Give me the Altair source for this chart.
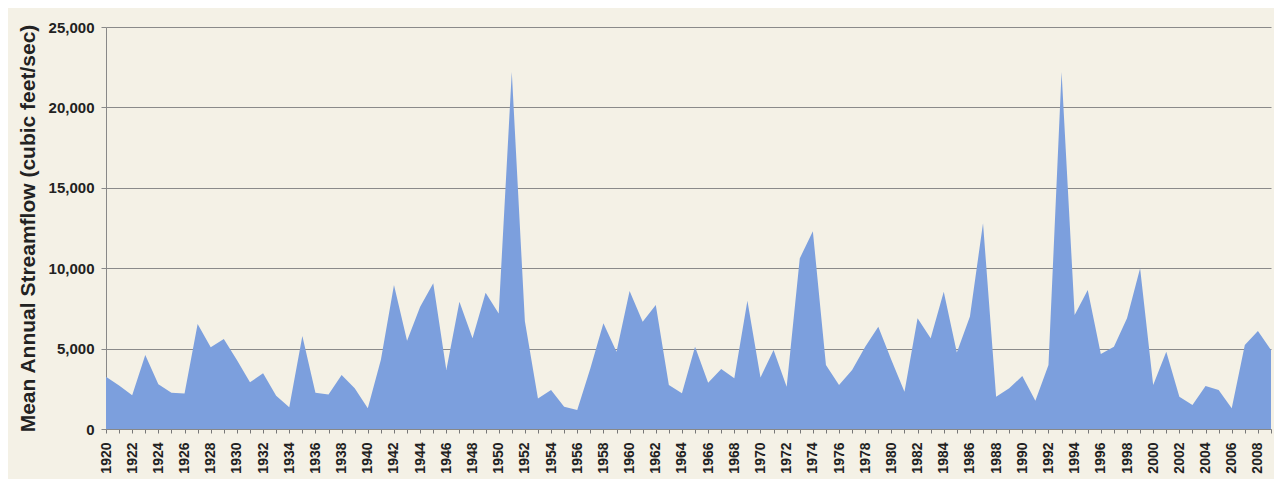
import altair as alt
import pandas as pd

years = list(range(1920, 2010))
flow = [
    3250, 2700, 2100, 4600, 2780, 2260, 2200, 6530, 5080, 5600,
    4290, 2900, 3460, 2070, 1350, 5780, 2260, 2150, 3360, 2530,
    1290, 4300, 8960, 5490, 7610, 9060, 3670, 7920, 5640, 8480,
    7190, 22200, 6700, 1900, 2430, 1390, 1180, 3770, 6570, 4810,
    8580, 6670, 7710, 2740, 2220, 5120, 2880, 3730, 3150, 7980,
    3210, 4910, 2630, 10610, 12300, 3980, 2740, 3670, 5120, 6360,
    4290, 2320, 6880, 5640, 8540, 4760, 6990, 12800, 2010, 2530,
    3300, 1760, 3980, 22200, 7090, 8640, 4660, 5120, 6880, 9990,
    2740, 4810, 2010, 1490, 2670, 2430, 1290, 5220, 6090, 4910,
]
y_ticks = [0, 5000, 10000, 15000, 20000, 25000]

df = pd.DataFrame({"year": years, "flow": flow})

chart = alt.Chart(df).mark_area(color="#7c9fdd", opacity=1).encode(
    x=alt.X(
        "year:Q",
        scale=alt.Scale(domain=[1920, 2009], nice=False, zero=False),
        axis=alt.Axis(
            title=None,
            values=years,
            format="d",
            labelExpr="datum.value % 2 === 0 ? datum.label : ''",
            labelAngle=-90,
            labelAlign="right",
            labelBaseline="middle",
            labelFont="Liberation Sans",
            labelFontWeight="bold",
            labelFontSize=14,
            labelColor="#222222",
            labelPadding=9,
            tickSize=4,
            tickColor="#777777",
            domainColor="#888888",
            grid=False,
            labelOverlap=False,
        ),
    ),
    y=alt.Y(
        "flow:Q",
        scale=alt.Scale(domain=[0, 25000], nice=False),
        axis=alt.Axis(
            title="Mean Annual Streamflow (cubic feet/sec)",
            values=y_ticks,
            format=",d",
            labelFont="Liberation Sans",
            labelFontWeight="bold",
            labelFontSize=15,
            labelColor="#222222",
            labelPadding=7,
            tickSize=5,
            tickColor="#888888",
            domainColor="#888888",
            gridColor="#8a8a8a",
            gridWidth=1.2,
            titleFont="Liberation Sans",
            titleFontWeight="bold",
            titleFontSize=21,
            titleColor="#222222",
            titleX=-78,
            titleY=201,
            titleAlign="center",
            titleBaseline="middle",
            titleAngle=-90,
        ),
    ),
).properties(
    width=1165,
    height=402,
    background="#f4f1e6",
    padding={"left": 98, "top": 19, "right": 3, "bottom": 50},
    autosize=alt.AutoSizeParams(type="none"),
).configure_view(stroke=None)

chart.save("out.html", embed_options={"renderer": "svg", "actions": False})
